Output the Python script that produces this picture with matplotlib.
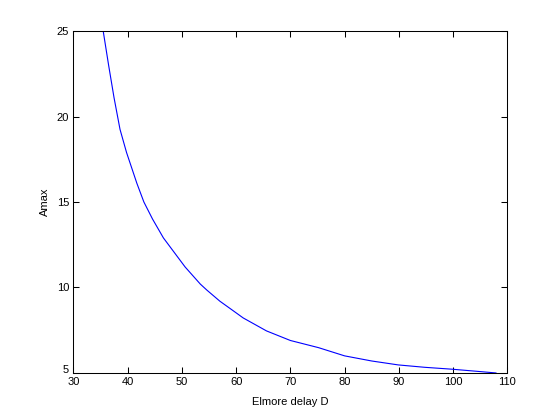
import matplotlib
matplotlib.use('Agg')
import matplotlib.pyplot as plt
import matplotlib.transforms as mtransforms

# Elmore delay D vs Amax
delay = [35.5, 36.5, 37.5, 38.6, 39.8, 41.7, 43.0, 44.6, 46.6, 50.6, 53.4,
         54.6, 57.0, 59.2, 61.3, 65.6, 70.0, 75.2, 80.0, 85.0, 89.9, 94.8,
         99.8, 105.0, 107.9]
amax = [25.0, 23.0, 21.1, 19.25, 17.9, 16.1, 15.0, 14.0, 12.9, 11.2, 10.2,
        9.85, 9.2, 8.7, 8.22, 7.46, 6.9, 6.48, 6.0, 5.7, 5.47, 5.33,
        5.22, 5.08, 5.0]

xticks = [30, 40, 50, 60, 70, 80, 90, 100, 110]
yticks = [5, 10, 15, 20, 25]

plt.rcParams['font.family'] = ['Liberation Sans', 'DejaVu Sans']

fig = plt.figure(figsize=(5.6, 4.2), dpi=100)
ax = fig.add_axes([0.131, 0.112, 0.775, 0.814])

ax.plot(delay, amax, color='#0000ff', linewidth=0.8)

ax.set_xlim(30, 110)
ax.set_ylim(5, 25)
ax.set_xticks(xticks)
ax.set_yticks(yticks)
ax.tick_params(direction='in', length=4, width=0.75, labelsize=8,
               top=True, right=True, pad=3)
for s in ax.spines.values():
    s.set_linewidth(0.75)

# lift the bottom "5" a little so it clears "30", as in the original
lbl = ax.get_yticklabels()[0]
lbl.set_transform(lbl.get_transform() +
                  mtransforms.ScaledTranslation(0, 3 / 72, fig.dpi_scale_trans))

ax.set_xlabel('Elmore delay D', fontsize=8, labelpad=7)
ax.set_ylabel('Amax', fontsize=8, labelpad=5)

fig.savefig('out.png', dpi=100, facecolor='white')
